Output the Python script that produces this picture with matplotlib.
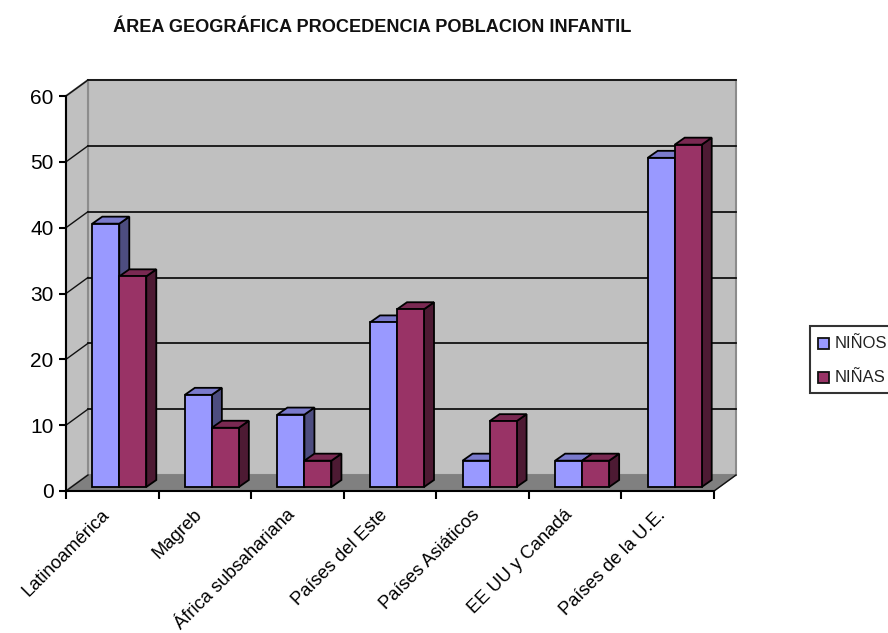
import numpy as np
import matplotlib
matplotlib.use('Agg')
import matplotlib.pyplot as plt
from matplotlib.patches import Polygon, Rectangle
from matplotlib.transforms import ScaledTranslation

categorias = ["Latinoamérica", "Magreb", "África subsahariana", "Países del Este",
              "Países Asiáticos", "EE UU y Canadá", "Países de la U.E."]
ninos = [40, 14, 11, 25, 4, 4, 50]
ninas = [32, 9, 4, 27, 10, 4, 52]
y_ticks = [0, 10, 20, 30, 40, 50, 60]

plt.rcParams['font.family'] = ['Liberation Sans', 'DejaVu Sans']

W, H = 888, 633
fig = plt.figure(figsize=(W / 100, H / 100), dpi=100)

# front edge of the 3D box: x 66..714, y 491..96 in pixels
ax = fig.add_axes([66 / W, (H - 491) / H, 648 / W, 395 / H])
ax.set_xlim(0, 7)
ax.set_ylim(0, 60)
ax.patch.set_visible(False)

# depth of the box and of the bars, in data units
px = 7 / 648      # one pixel in x
py = 60 / 395     # one pixel in y
box_dx, box_dy = 22 * px, 16 * py
off_dx, off_dy = 7 * px, 4 * py
bar_dx, bar_dy = 10 * px, 7 * py
bar_w = 27 * px

edge = '#000000'


def poly(pts, face, ec=edge, lw=1.3, z=1):
    ax.add_patch(Polygon(pts, closed=True, facecolor=face, edgecolor=ec, linewidth=lw,
                         clip_on=False, zorder=z, joinstyle='miter'))


# walls and floor
poly([(box_dx, box_dy), (7 + box_dx, box_dy), (7 + box_dx, 60 + box_dy), (box_dx, 60 + box_dy)],
     '#C0C0C0', ec='#8C8C8C', lw=1.5)
poly([(0, 0), (box_dx, box_dy), (box_dx, 60 + box_dy), (0, 60)], '#C0C0C0', ec='#8C8C8C', lw=1.5)
poly([(0, 0), (7, 0), (7 + box_dx, box_dy), (box_dx, box_dy)], '#808080', ec='#808080', lw=1)

# gridlines on the walls
for v in y_ticks:
    if v > 0:
        ax.plot([box_dx, 7 + box_dx], [v + box_dy, v + box_dy], color='#111111', lw=1.3,
                clip_on=False, zorder=2)
    ax.plot([0, box_dx], [v, v + box_dy], color='#111111', lw=1, clip_on=False, zorder=2)
ax.plot([7, 7 + box_dx], [0, box_dy], color='#111111', lw=1, clip_on=False, zorder=2)


def bar3d(x, v, front, top, side, z):
    x0 = x + off_dx
    x1 = x0 + bar_w
    y0 = off_dy
    y1 = v + off_dy
    poly([(x1, y0), (x1 + bar_dx, y0 + bar_dy), (x1 + bar_dx, y1 + bar_dy), (x1, y1)], side, z=z)
    poly([(x0, y1), (x1, y1), (x1 + bar_dx, y1 + bar_dy), (x0 + bar_dx, y1 + bar_dy)], top, z=z)
    poly([(x0, y0), (x1, y0), (x1, y1), (x0, y1)], front, z=z)


for i in range(len(categorias)):
    centro = i + 0.5
    bar3d(centro - bar_w, ninos[i], '#9999FF', '#7A7ACC', '#4D4D80', 3 + i * 2)
    bar3d(centro, ninas[i], '#993366', '#7A2952', '#4D1A33', 4 + i * 2)

# axes
for s in ['top', 'right']:
    ax.spines[s].set_visible(False)
for s in ['left', 'bottom']:
    ax.spines[s].set_linewidth(1.5)
    ax.spines[s].set_zorder(20)
ax.set_yticks(y_ticks)
ax.tick_params(axis='y', labelsize=15, length=5, width=1.5, pad=4)
ax.set_xticks(np.arange(8))
ax.set_xticklabels([])
ax.tick_params(axis='x', which='major', length=6, width=1.5)
ax.set_xticks(np.arange(7) + 0.5, minor=True)
etiquetas = ax.set_xticklabels(categorias, minor=True, rotation=45, ha='right', va='top',
                               rotation_mode='anchor', fontsize=13.2)
ax.tick_params(axis='x', which='minor', length=0, pad=11)
desplaza = ScaledTranslation(-11 / 100, 0, fig.dpi_scale_trans)
for t in etiquetas:
    t.set_transform(t.get_transform() + desplaza)

# title and legend in pixel coordinates
ov = fig.add_axes([0, 0, 1, 1])
ov.set_xlim(0, W)
ov.set_ylim(H, 0)
ov.axis('off')
ov.patch.set_visible(False)
ov.text(372, 27, "ÁREA GEOGRÁFICA PROCEDENCIA POBLACION INFANTIL", fontsize=13.1,
        fontweight='bold', ha='center', va='center', color='#111111')
ov.add_patch(Rectangle((810, 326), 90, 67, facecolor='white', edgecolor='#333333', linewidth=1.5))
ov.add_patch(Rectangle((818, 338), 11, 11, facecolor='#9999FF', edgecolor='#111111', linewidth=1.3))
ov.add_patch(Rectangle((818, 372), 11, 11, facecolor='#993366', edgecolor='#111111', linewidth=1.3))
ov.text(835, 344, "NIÑOS", fontsize=12, va='center', ha='left', color='#222222')
ov.text(835, 378, "NIÑAS", fontsize=12, va='center', ha='left', color='#222222')

fig.savefig('out.png', dpi=100)
